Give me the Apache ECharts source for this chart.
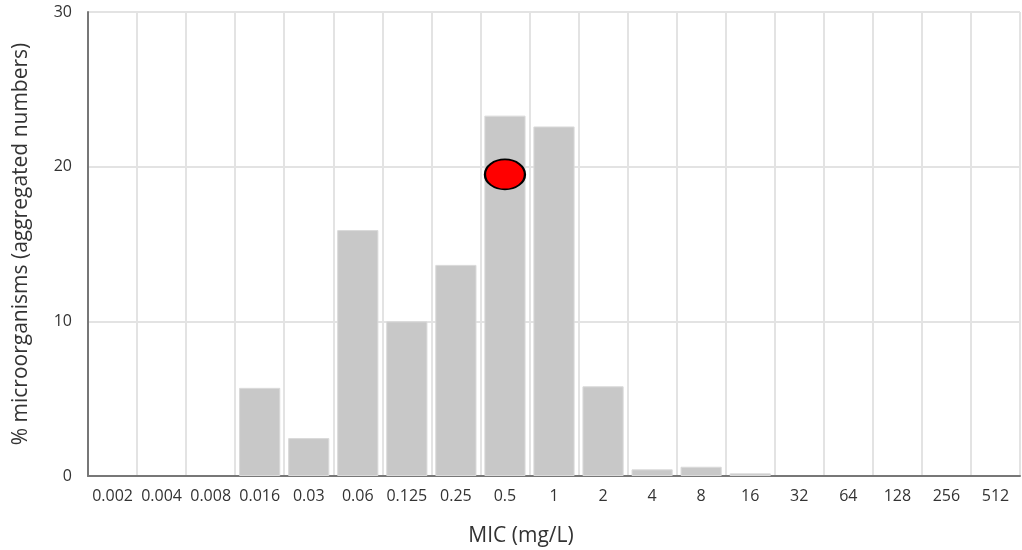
<!DOCTYPE html>
<html>
<head>
<meta charset="utf-8">
<script src="https://cdn.jsdelivr.net/npm/echarts@6/dist/echarts.min.js"></script>
<style>html,body{margin:0;padding:0;background:#fff}#c{width:1022px;height:550px}</style>
</head>
<body>
<div id="c"></div>
<script>
const categories = ['0.002','0.004','0.008','0.016','0.03','0.06','0.125','0.25','0.5','1','2','4','8','16','32','64','128','256','512'];
const percentValues = [0,0,0,5.7,2.45,15.9,10.0,13.65,23.3,22.6,5.8,0.43,0.6,0.17,0,0,0,0,0];
const markerCategory = ['0.5'];
const markerValue = [19.5];
const yTicks = [0,10,20,30];

const chart = echarts.init(document.getElementById('c'), null, {renderer:'canvas'});
const font = "'Open Sans', sans-serif";
chart.setOption({
  animation: false,
  grid: {left: 88, right: 2, top: 12, bottom: 74, containLabel: false, outerBoundsMode: 'none'},
  xAxis: {
    type: 'category',
    data: categories,
    name: 'MIC (mg/L)',
    nameLocation: 'middle',
    nameGap: 50,
    nameTextStyle: {fontFamily: font, fontSize: 21, color: '#333', padding: [0, 66, 0, 0]},
    axisLine: {show: true, lineStyle: {color: '#777', width: 2}},
    axisTick: {show: false},
    axisLabel: {fontFamily: font, fontSize: 16, color: '#333', margin: 12, interval: 0},
    splitLine: {show: true, interval: 0, lineStyle: {color: '#e3e3e3', width: 2}}
  },
  yAxis: {
    type: 'value',
    min: yTicks[0], max: yTicks[yTicks.length-1], interval: 10,
    name: '% microorganisms (aggregated numbers)',
    nameLocation: 'middle',
    nameGap: 56,
    nameTextStyle: {fontFamily: font, fontSize: 21, color: '#333'},
    axisLine: {show: true, lineStyle: {color: '#777', width: 2}},
    axisTick: {show: false},
    axisLabel: {fontFamily: font, fontSize: 16, color: '#333', margin: 16},
    splitLine: {show: true, lineStyle: {color: '#e3e3e3', width: 2}}
  },
  series: [
    {
      type: 'bar',
      data: percentValues.map(v => v === 0 ? null : v),
      barCategoryGap: '16%',
      itemStyle: {color: '#c8c8c8', borderColor: '#dadada', borderWidth: 1},
      z: 2
    },
    {
      type: 'scatter',
      data: markerCategory.map((c, i) => [c, markerValue[i]]),
      symbol: 'circle',
      symbolSize: [40, 30],
      itemStyle: {color: '#ff0000', borderColor: '#000', borderWidth: 2, opacity: 1},
      z: 5
    }
  ]
});
</script>
</body>
</html>
